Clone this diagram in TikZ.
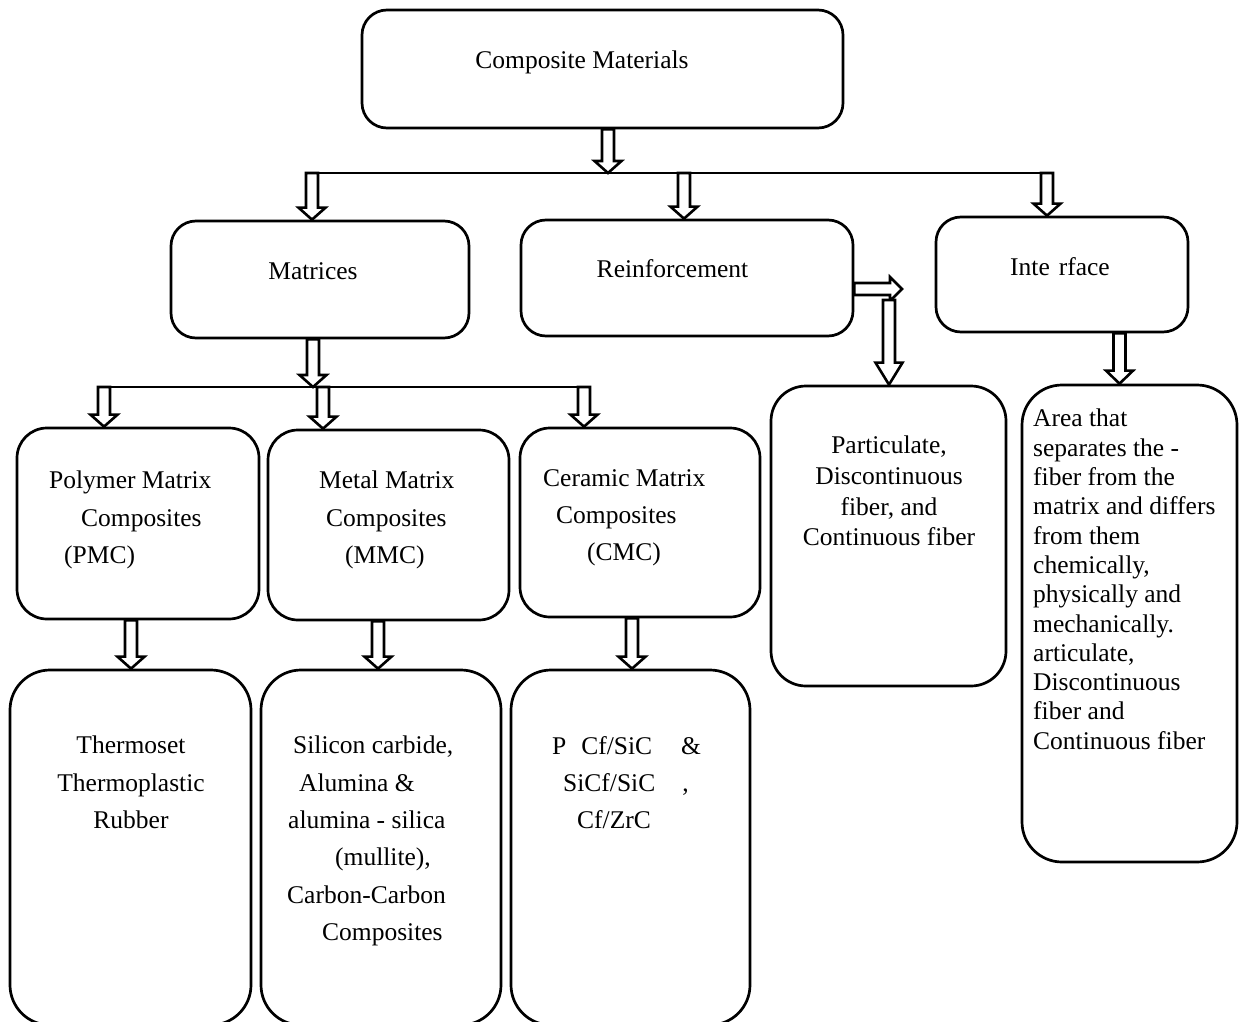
\documentclass[tikz,border=0pt]{standalone}
\usepackage{fontspec}
\setmainfont{Liberation Serif}
\usetikzlibrary{calc}
\newcommand\mkdown[3][12pt]{\draw[blockarr] let \p1=#2, \p2=#3 in
  (\x1-6pt,\y1) -- (\x1+6pt,\y1) -- (\x1+6pt,\y2+#1) -- (\x1+13.5pt,\y2+#1) --
  (\x1,\y2) -- (\x1-13.5pt,\y2+#1) -- (\x1-6pt,\y2+#1) -- cycle;}
\tikzset{
  box/.style={draw, line width=2.7pt, rounded corners=#1, inner sep=0pt},
  blockarr/.style={draw, fill=white, line width=2.6pt, line join=miter},
  bus/.style={line width=2.8pt},
  txt/.style={inner sep=0pt, font=\fontsize{25.5}{37.3}\selectfont},
}
\begin{document}
\begin{tikzpicture}[x=1pt,y=-1pt]
\useasboundingbox (0,0) rectangle (1239,1022);
\clip (0,0) rectangle (1239,1022);
\fill[white] (0,0) rectangle (1239,1022);

% boxes
\node[box=25pt, minimum width=481pt, minimum height=118pt] (comp) at (602.5,69) {};
\node[box=25pt, minimum width=298pt, minimum height=117pt] (mat) at (320,279.5) {};
\node[box=25pt, minimum width=332pt, minimum height=116pt] (reinf) at (687,278) {};
\node[box=25pt, minimum width=252pt, minimum height=115pt] (intf) at (1062,274.5) {};
\node[box=30pt, minimum width=242pt, minimum height=191pt] (pmc) at (138,523.5) {};
\node[box=30pt, minimum width=241pt, minimum height=190pt] (mmc) at (388.5,525) {};
\node[box=30pt, minimum width=240pt, minimum height=189pt] (cmc) at (640,522.5) {};
\node[box=35pt, minimum width=235pt, minimum height=300pt] (part) at (888.5,536) {};
\node[box=40pt, minimum width=215pt, minimum height=477pt] (area) at (1129.5,623.5) {};
\node[box=40pt, minimum width=241pt, minimum height=355pt] (thermo) at (130.5,847.5) {};
\node[box=40pt, minimum width=240pt, minimum height=355pt] (sil) at (381,847.5) {};
\node[box=40pt, minimum width=239pt, minimum height=355pt] (pcf) at (630.5,847.5) {};

% texts
\node[txt, anchor=base] (tcomp) at (582,69) {Composite Materials};
\node[txt, anchor=base] (tmat) at (313,279) {Matrices};
\node[txt, anchor=base] (treinf) at (672.5,277) {Reinforcement};
\node[txt, anchor=base] (tintf) at (1060,275) {Inte\hspace{9pt}rface};

\node[txt, align=left, anchor=north west] (tpmc) at (49,471)
  {Polymer Matrix\\\hspace*{32pt}Composites\\\hspace*{15pt}(PMC)};
\node[txt, align=left, anchor=north west] (tmmc) at (319,471)
  {Metal Matrix\\\hspace*{7pt}Composites\\\hspace*{26pt}(MMC)};
\node[txt, align=left, anchor=north west] (tcmc) at (543,469)
  {Ceramic Matrix\\\hspace*{13pt}Composites\\\hspace*{44pt}(CMC)};

\node[txt, align=center, anchor=north, font=\fontsize{25.5}{30.7}\selectfont] (tpart) at (889,436)
  {Particulate,\\Discontinuous\\fiber, and\\Continuous fiber};

\node[txt, align=left, anchor=north west, font=\fontsize{25.5}{29.3}\selectfont] (tarea) at (1033,409)
  {Area that\\separates the -\\fiber from the\\matrix and differs\\from them\\chemically,\\physically and\\mechanically.\\articulate,\\Discontinuous\\fiber and\\Continuous fiber};

\node[txt, align=center, anchor=north] (tthermo) at (131,736)
  {Thermoset\\Thermoplastic\\Rubber};
\node[txt, align=left, anchor=north west] (tsil) at (287,736)
  {\hspace*{6pt}Silicon carbide,\\\hspace*{12pt}Alumina \&\\\hspace*{1pt}alumina - silica\\\hspace*{48pt}(mullite),\\Carbon-Carbon\\\hspace*{35pt}Composites};
\node[txt, align=left, anchor=north west] (tpcf) at (552,736)
  {P\hspace{15pt}Cf/SiC\hspace{29pt}\&\\\hspace*{11pt}SiCf/SiC\hspace{27pt},\\\hspace*{25pt}Cf/ZrC};

% junction coordinates
\coordinate (j1) at (608,173);
\coordinate (jm) at (312,173);
\coordinate (jr) at (684,173);
\coordinate (ji) at (1047,173);
\coordinate (b1L) at (306,173);
\coordinate (b1R) at (1053,173);
\coordinate (j2) at (313,387);
\coordinate (jp) at (104,387);
\coordinate (jmm) at (323,387);
\coordinate (jc) at (584,387);
\coordinate (b2L) at (98,387);
\coordinate (b2R) at (590,387);
\coordinate (ai) at (1119.5,332);
\coordinate (rr) at (902,289);
\coordinate (rd) at (889,300);
\coordinate (ap) at (131,619);
\coordinate (am) at (378,620);
\coordinate (ac) at (632,617);

% bus lines
\draw[bus] (b1L) -- (b1R);
\draw[bus] (b2L) -- (b2R);

% block arrows
\mkdown{(comp.south -| j1)}{(j1)}
\mkdown{(jm)}{(mat.north -| jm)}
\mkdown{(jr)}{(reinf.north -| jr)}
\mkdown{(ji)}{(intf.north -| ji)}
\mkdown{(mat.south -| j2)}{(j2)}
\mkdown{(jp)}{(pmc.north -| jp)}
\mkdown{(jmm)}{(mmc.north -| jmm)}
\mkdown{(jc)}{(cmc.north -| jc)}
\mkdown[13pt]{(intf.south -| ai)}{(area.north -| ai)}
\mkdown{(pmc.south -| ap)}{(thermo.north -| ap)}
\mkdown{(mmc.south -| am)}{(sil.north -| am)}
\mkdown{(cmc.south -| ac)}{(pcf.north -| ac)}
\draw[blockarr] let \p1=(reinf.east |- rr), \p2=(rr) in
  (\x1,\y2+6pt) -- (\x2-12pt,\y2+6pt) -- (\x2-12pt,\y2+12pt) -- (\x2,\y2) --
  (\x2-12pt,\y2-12pt) -- (\x2-12pt,\y2-6pt) -- (\x1,\y2-6pt) -- cycle;
\mkdown[22pt]{(rd)}{(part.north -| rd)}
\end{tikzpicture}
\end{document}
